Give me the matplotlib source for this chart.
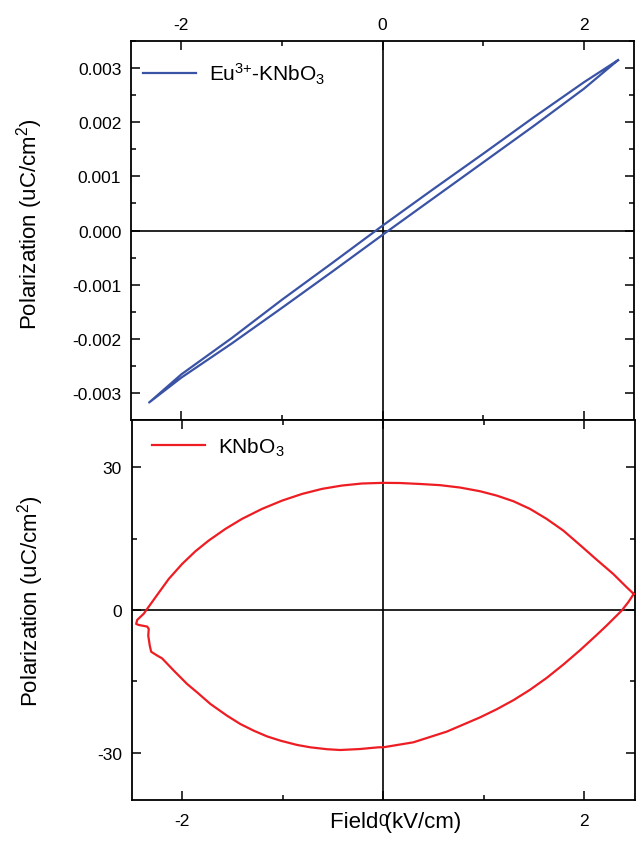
import numpy as np
import matplotlib
matplotlib.use('Agg')
import matplotlib.pyplot as plt
import matplotlib.ticker as ticker

# fonts / styles
plt.rcParams['font.family'] = ['Liberation Sans', 'DejaVu Sans']
plt.rcParams['mathtext.fontset'] = 'custom'
plt.rcParams['mathtext.rm'] = 'Liberation Sans'
plt.rcParams['mathtext.it'] = 'Liberation Sans:italic'
plt.rcParams['mathtext.default'] = 'regular'
plt.rcParams['axes.unicode_minus'] = False

# Eu3+-KNbO3 loop (field kV/cm, polarization uC/cm2)
eu_up_x = [2.34, 2.0, 1.5, 1.0, 0.5, 0.0, -0.5, -1.0, -1.5, -2.0, -2.32]
eu_up_y = [0.00315, 0.00274, 0.00209, 0.00142, 0.00076, 0.00009, -0.00060,
           -0.00128, -0.00199, -0.00266, -0.00318]
eu_dn_x = [-2.32, -2.0, -1.5, -1.0, -0.5, 0.0, 0.5, 1.0, 1.5, 2.0, 2.34]
eu_dn_y = [-0.00318, -0.00272, -0.00209, -0.00143, -0.00076, -0.00008,
           0.00059, 0.00126, 0.00193, 0.00262, 0.00315]

# KNbO3 loop: upper branch (right tip -> left), lower branch (left -> right tip)
kn_up_x = [2.49, 2.42, 2.286, 2.12, 1.955, 1.79, 1.624, 1.459, 1.294, 1.128,
           0.963, 0.764, 0.566, 0.367, 0.169, 0.0, -0.211, -0.41, -0.608,
           -0.807, -1.005, -1.204, -1.403, -1.568, -1.734, -1.866, -1.998,
           -2.131, -2.263, -2.38, -2.445]
kn_up_y = [3.37, 4.77, 7.58, 10.6, 13.68, 16.7, 19.16, 21.26, 22.87, 24.06,
           24.97, 25.75, 26.25, 26.5, 26.7, 26.74, 26.6, 26.17, 25.47,
           24.4, 23.0, 21.26, 19.16, 17.05, 14.6, 12.35, 9.68,
           6.53, 2.67, -0.8, -2.1]
kn_dn_x = [-2.455, -2.43, -2.345, -2.33, -2.335, -2.32, -2.306, -2.246, -2.197,
           -2.081, -1.949, -1.85, -1.717, -1.552, -1.42, -1.287, -1.155, -1.022,
           -0.857, -0.725, -0.56, -0.427, -0.229, -0.047, 0.0, 0.30, 0.632,
           0.963, 1.128, 1.293, 1.459, 1.625, 1.79, 1.955, 2.12, 2.22, 2.32,
           2.37, 2.435, 2.49]
kn_dn_y = [-2.95, -3.16, -3.5, -4.0, -5.4, -7.5, -8.8, -9.6, -10.2,
           -12.77, -15.58, -17.33, -19.79, -22.25, -24.0, -25.4, -26.6, -27.5,
           -28.4, -28.9, -29.3, -29.47, -29.26, -28.9, -28.9, -27.85, -25.6,
           -22.6, -20.9, -19.0, -16.8, -14.3, -11.5, -8.5, -5.3, -3.3, -1.2,
           -0.14, 1.6, 3.37]

x_ticks = [-2, 0, 2]
top_yticks = [-0.003, -0.002, -0.001, 0.0, 0.001, 0.002, 0.003]
bot_yticks = [-30, 0, 30]

blue = '#3A53A4'
red = '#EE1D23'

fig = plt.figure(figsize=(6.36, 8.45), dpi=100)
ax1 = fig.add_axes([0.206, 0.502, 0.791, 0.448])
ax2 = fig.add_axes([0.207, 0.052, 0.791, 0.450])


def style_axes(ax):
    for s in ax.spines.values():
        s.set_linewidth(1.3)
    ax.xaxis.set_major_locator(ticker.FixedLocator(x_ticks))
    ax.xaxis.set_minor_locator(ticker.MultipleLocator(1))
    ax.tick_params(which='both', direction='in', top=True, right=True,
                   width=1.1, labelsize=12.5)
    ax.tick_params(which='major', length=6.5)
    ax.tick_params(which='minor', length=3.5)
    ax.tick_params(axis='y', pad=7)
    ax.axhline(0, color='black', lw=1.2, zorder=1)
    ax.axvline(0, color='black', lw=1.2, zorder=1)
    ax.set_xlim(-2.5, 2.5)


# top panel
style_axes(ax1)
ax1.plot(eu_up_x + eu_dn_x, eu_up_y + eu_dn_y, color=blue, lw=1.6,
         label='Eu$^{3{+}}$-KNbO$_3$', zorder=3)
ax1.set_ylim(-0.0035, 0.0035)
ax1.yaxis.set_major_locator(ticker.FixedLocator(top_yticks))
ax1.yaxis.set_major_formatter(ticker.FormatStrFormatter('%.3f'))
ax1.yaxis.set_minor_locator(ticker.MultipleLocator(0.0005))
ax1.tick_params(axis='x', labelbottom=False, labeltop=True, pad=7)
ax1.set_ylabel('Polarization (uC/cm$^2$)', fontsize=16)
ax1.yaxis.set_label_coords(-0.171, 0.52)
ax1.legend(loc='center left', bbox_to_anchor=(0.024, 0.915), frameon=False,
           fontsize=15, handlelength=2.55, handletextpad=0.63,
           borderpad=0, borderaxespad=0)

# bottom panel
style_axes(ax2)
ax2.plot(kn_up_x + kn_dn_x, kn_up_y + kn_dn_y, color=red, lw=1.6,
         label='KNbO$_3$', zorder=3)
ax2.set_ylim(-40, 40)
ax2.yaxis.set_major_locator(ticker.FixedLocator(bot_yticks))
ax2.yaxis.set_minor_locator(ticker.MultipleLocator(15))
ax2.tick_params(axis='x', pad=9)
ax2.set_ylabel('Polarization (uC/cm$^2$)', fontsize=16)
ax2.yaxis.set_label_coords(-0.171, 0.526)
ax2.set_xlabel('Field (kV/cm)', fontsize=16)
ax2.xaxis.set_label_coords(0.525, -0.029)
ax2.legend(loc='center left', bbox_to_anchor=(0.04, 0.93), frameon=False,
           fontsize=15, handlelength=2.55, handletextpad=0.63,
           borderpad=0, borderaxespad=0)

fig.savefig('out.png', dpi=100)
